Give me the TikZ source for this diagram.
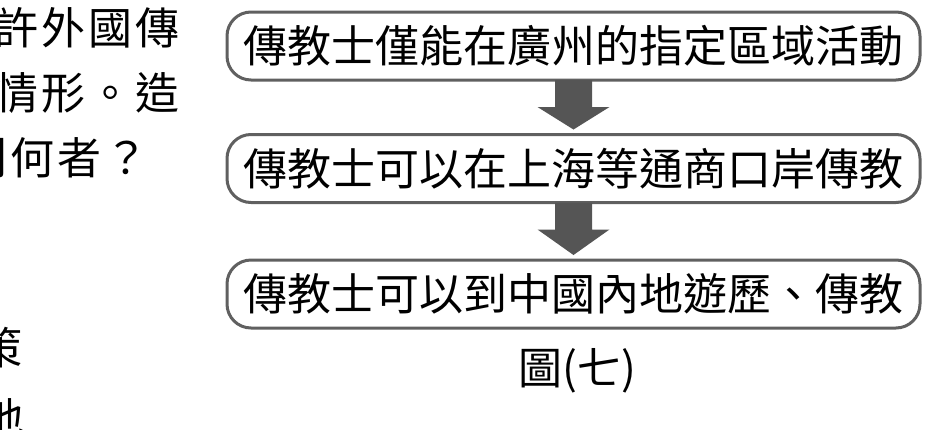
\documentclass[tikz,border=0pt]{standalone}
\usepackage{fontspec}
\newfontfamily\cjk{Noto Sans CJK TC}
\newfontfamily\cjkwide[LetterSpace=7]{Noto Sans CJK TC}
\usetikzlibrary{calc}
\definecolor{boxline}{RGB}{96,96,96}
\definecolor{arrowfill}{RGB}{85,85,85}
\tikzset{
  stagebox/.style={draw=boxline, line width=3pt, rounded corners=24pt,
    minimum width=693pt, minimum height=68pt, inner sep=0pt, outer sep=0pt,
    font=\cjk\fontsize{44}{44}\selectfont},
  sidetext/.style={anchor=west, inner sep=0pt, font=\cjkwide\fontsize{44}{44}\selectfont},
}
\begin{document}
\begin{tikzpicture}[x=1pt,y=-1pt]
  \useasboundingbox (0,0) rectangle (927,429);
  \clip (0,0) rectangle (927,429);
  \node[sidetext] (q1) at (-6,28) {許外國傳};
  \node[sidetext] (q2) at (-6,93) {情形。造};
  \node[sidetext] (q3) at (-37,158) {列何者？};
  \node[sidetext] (q4) at (-22,348) {策};
  \node[sidetext] (q5) at (-20,418) {地};
  \node[stagebox] (b1) at (573.5,46) {傳教士僅能在廣州的指定區域活動};
  \node[stagebox] (b2) at (573.5,168.5) {傳教士可以在上海等通商口岸傳教};
  \node[stagebox] (b3) at (573.5,294) {傳教士可以到中國內地遊歷、傳教};
  \foreach \a/\b in {b1/b2, b2/b3}
    \fill[arrowfill] ($(\a.south)+(-18.5,0)$) -- ($(\a.south)+(18.5,0)$)
      -- ($(\a.south)+(18.5,27)$) -- ($(\a.south)+(36,27)$)
      -- ($(\b.north)+(0,-5)$) -- ($(\a.south)+(-36,27)$)
      -- ($(\a.south)+(-18.5,27)$) -- cycle;
  \node[font=\cjk\fontsize{44}{44}\selectfont, inner sep=0pt] (cap) at (577,371) {圖(七)};
\end{tikzpicture}
\end{document}
